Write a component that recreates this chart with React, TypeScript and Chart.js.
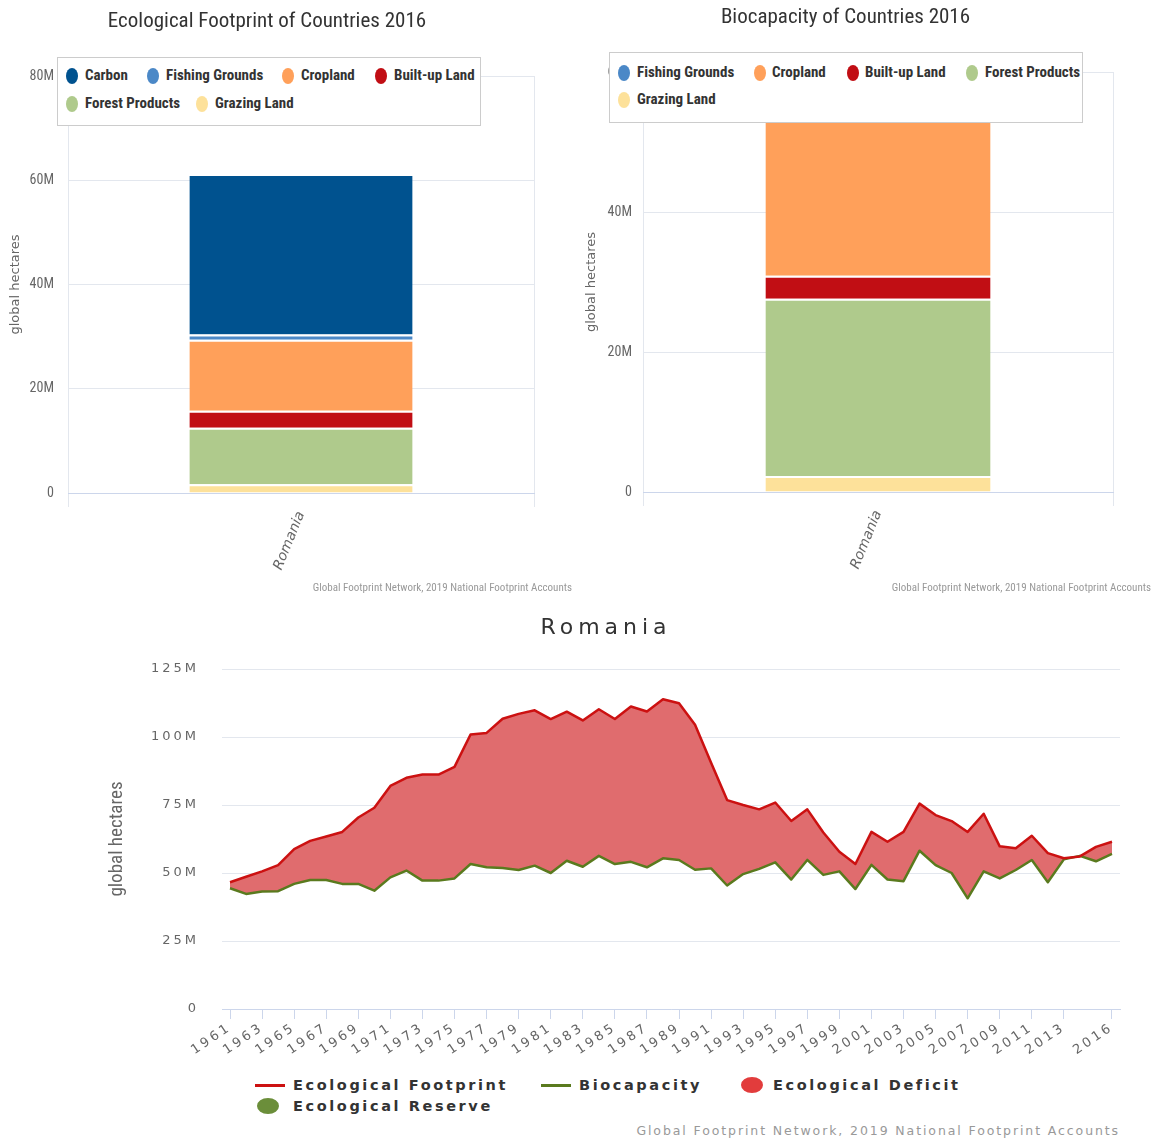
import React, { useEffect, useRef } from 'react';
import { Chart, registerables } from 'chart.js';

Chart.register(...registerables);

// ---------------- DATA ----------------
const countries = ['Romania'];

// stack order, bottom to top (values in millions of global hectares)
const footprintLandTypes = ['Grazing Land', 'Forest Products', 'Built-up Land', 'Cropland', 'Fishing Grounds', 'Carbon'];
const footprintRomania = [1.7, 10.8, 3.3, 13.6, 1.0, 30.8];

const biocapacityLandTypes = ['Grazing Land', 'Forest Products', 'Built-up Land', 'Cropland', 'Fishing Grounds'];
const biocapacityRomania = [2.3, 25.3, 3.3, 24.4, 2.0];

const years = [
  1961, 1962, 1963, 1964, 1965, 1966, 1967, 1968, 1969, 1970,
  1971, 1972, 1973, 1974, 1975, 1976, 1977, 1978, 1979, 1980,
  1981, 1982, 1983, 1984, 1985, 1986, 1987, 1988, 1989, 1990,
  1991, 1992, 1993, 1994, 1995, 1996, 1997, 1998, 1999, 2000,
  2001, 2002, 2003, 2004, 2005, 2006, 2007, 2008, 2009, 2010,
  2011, 2012, 2013, 2014, 2015, 2016,
];

const ecologicalFootprint = [
  46.6, 48.6, 50.6, 52.9, 58.8, 61.8, 63.4, 65.1, 70.4, 74.0,
  82.0, 85.0, 86.2, 86.2, 89.0, 100.9, 101.5, 106.7, 108.5, 109.8,
  106.6, 109.3, 106.1, 110.2, 106.6, 111.2, 109.4, 113.9, 112.4, 104.5,
  90.5, 76.8, 75.0, 73.4, 75.9, 69.1, 73.4, 64.9, 57.8, 53.3,
  65.1, 61.5, 65.1, 75.5, 71.3, 69.1, 65.1, 71.8, 59.8, 59.1,
  63.7, 57.3, 55.4, 56.1, 59.6, 61.5,
];

const biocapacity = [
  44.4, 42.3, 43.2, 43.3, 46.0, 47.4, 47.4, 46.0, 46.0, 43.5,
  48.4, 50.9, 47.2, 47.2, 48.0, 53.3, 52.1, 51.8, 51.1, 52.7,
  50.0, 54.5, 52.3, 56.3, 53.3, 54.1, 52.1, 55.4, 54.8, 51.2,
  51.7, 45.4, 49.6, 51.5, 53.9, 47.6, 54.8, 49.3, 50.6, 44.1,
  53.0, 47.6, 47.0, 58.2, 52.9, 50.0, 40.7, 50.6, 48.0, 51.1,
  54.8, 46.6, 55.0, 56.3, 54.3, 57.0,
];

const yearTickLabels = [
  1961, 1963, 1965, 1967, 1969, 1971, 1973, 1975, 1977, 1979,
  1981, 1983, 1985, 1987, 1989, 1991, 1993, 1995, 1997, 1999,
  2001, 2003, 2005, 2007, 2009, 2011, 2013, 2016,
];

// ---------------- STYLE ----------------
const NARROW = "'Liberation Sans Narrow', 'Arial Narrow', 'Roboto Condensed', sans-serif";
const WIDE = "'DejaVu Sans', Verdana, sans-serif";

const landColors: Record<string, string> = {
  'Carbon': '#00528f',
  'Fishing Grounds': '#4b88c7',
  'Cropland': '#ffa05a',
  'Built-up Land': '#c10e14',
  'Forest Products': '#afca8c',
  'Grazing Land': '#fde19a',
};

const FP_RED = '#cc1111';
const BIO_GREEN = '#5a7a1e';
const DEFICIT_FILL = 'rgb(224,108,110)';
const RESERVE_FILL = 'rgb(122,154,69)';
const DEFICIT_DOT = '#e23c3c';
const RESERVE_DOT = '#6b8e3a';
const GRID = '#e3e7ee';
const AXIS = '#ccd6eb';
const CREDITS = 'Global Footprint Network, 2019 National Footprint Accounts';

// ---------------- plugins ----------------
const spacingPlugin = {
  id: 'spacing',
  beforeDraw(chart: any, _args: any, opts: any) {
    const ctx = chart.ctx;
    ctx.letterSpacing = opts.ticks || '0px';
    const ys = chart.scales.y;
    if (ys && !ys.__plain) {
      const orig = ys.drawTitle;
      ys.drawTitle = function () {
        const c = this.ctx;
        const prev = c.letterSpacing;
        c.letterSpacing = opts.axisTitle || '0px';
        orig.call(this);
        c.letterSpacing = prev;
      };
      ys.__plain = true;
    }
    const tb = chart.titleBlock;
    if (tb && !tb.__spaced) {
      const origT = tb.draw;
      tb.draw = function () {
        const c = this.ctx;
        const prev = c.letterSpacing;
        c.letterSpacing = opts.title || '0px';
        origT.call(this);
        c.letterSpacing = prev;
      };
      tb.__spaced = true;
    }
  },
  afterDraw(chart: any) {
    chart.ctx.letterSpacing = '0px';
  },
};

// ---------------- configs ----------------
function makeBarConfig(p: {
  title: string; types: string[]; values: number[]; max: number;
  titlePadTop: number; titlePadBottom: number; yWidth: number; xHeight: number;
  tickPad: number; yTitlePad: number; padRight: number;
}) {
  return {
    type: 'bar',
    data: {
      labels: countries,
      datasets: p.types.map((t, i) => ({
        label: t,
        data: [p.values[i]],
        backgroundColor: landColors[t],
        borderColor: '#ffffff',
        borderWidth: { top: 2, left: 0, right: 0, bottom: 0 },
        borderSkipped: false,
        barPercentage: 0.479,
        categoryPercentage: 1,
      })),
    },
    options: {
      responsive: false,
      maintainAspectRatio: false,
      animation: false,
      layout: { padding: { top: 0, left: 0, right: p.padRight, bottom: 0 } },
      plugins: {
        legend: { display: false },
        tooltip: { enabled: false },
        title: {
          display: true,
          text: p.title,
          color: '#333333',
          font: { family: NARROW, size: 21, weight: 'normal', lineHeight: 1.2 },
          padding: { top: p.titlePadTop, bottom: p.titlePadBottom },
        },
      },
      scales: {
        x: {
          stacked: true,
          offset: true,
          grid: { display: true, offset: true, color: GRID, tickLength: 14, drawOnChartArea: true },
          border: { display: true, color: AXIS },
          ticks: {
            minRotation: 68, maxRotation: 68, padding: 2, color: '#666666',
            font: { family: WIDE, size: 14, style: 'italic' },
          },
          afterFit: (s: any) => { s.height = p.xHeight; },
        },
        y: {
          stacked: true,
          min: 0,
          max: p.max,
          ticks: {
            stepSize: 20, padding: p.tickPad, color: '#666666',
            font: { family: NARROW, size: 14 },
            callback: (v: any) => (v === 0 ? '0' : v + 'M'),
          },
          grid: { color: GRID, drawTicks: false },
          border: { display: false },
          title: {
            display: true, text: 'global hectares', color: '#666666',
            font: { family: WIDE, size: 13, lineHeight: 1.2 },
            padding: { top: p.yTitlePad, bottom: 0 },
          },
          afterFit: (s: any) => { s.width = p.yWidth; },
        },
      },
    },
  };
}

function makeLineConfig() {
  return {
    type: 'line',
    data: {
      datasets: [
        {
          label: 'Ecological Footprint',
          data: years.map((yr, i) => ({ x: yr, y: ecologicalFootprint[i] })),
          borderColor: FP_RED,
          borderWidth: 2.5,
          borderJoinStyle: 'round',
          pointRadius: 0,
          tension: 0,
          fill: { target: 1, above: DEFICIT_FILL, below: RESERVE_FILL },
        },
        {
          label: 'Biocapacity',
          data: years.map((yr, i) => ({ x: yr, y: biocapacity[i] })),
          borderColor: BIO_GREEN,
          borderWidth: 2.5,
          borderJoinStyle: 'round',
          pointRadius: 0,
          tension: 0,
          fill: false,
        },
      ],
    },
    plugins: [spacingPlugin],
    options: {
      responsive: false,
      maintainAspectRatio: false,
      animation: false,
      layout: { padding: { top: 0, left: 35, right: 35, bottom: 0 } },
      plugins: {
        legend: { display: false },
        tooltip: { enabled: false },
        filler: { drawTime: 'beforeDatasetsDraw' },
        spacing: { ticks: '3px', title: '5px', axisTitle: '0px' },
        title: {
          display: true,
          text: 'Romania',
          color: '#333333',
          font: { family: WIDE, size: 22, weight: 'normal', lineHeight: 1.2 },
          padding: { top: 14.8, bottom: 27.8 },
        },
      },
      scales: {
        x: {
          type: 'linear',
          min: 1960.5,
          max: 2016.5,
          afterBuildTicks: (scale: any) => {
            scale.ticks = yearTickLabels.map((v) => ({ value: v }));
          },
          ticks: {
            autoSkip: false, minRotation: 34, maxRotation: 34, padding: 1,
            color: '#666666', font: { family: WIDE, size: 13 },
            callback: (v: any) => String(v),
          },
          grid: { display: true, drawOnChartArea: false, drawTicks: true, tickLength: 10, color: AXIS },
          border: { display: true, color: AXIS },
          afterFit: (s: any) => { s.height = 61; },
        },
        y: {
          min: 0,
          max: 125,
          ticks: {
            stepSize: 25, padding: 23, color: '#666666',
            font: { family: WIDE, size: 13 },
            callback: (v: any) => (v === 0 ? '0' : v + 'M'),
          },
          grid: { color: GRID, drawTicks: false },
          border: { display: false },
          title: {
            display: true, text: 'global hectares', color: '#666666',
            font: { family: NARROW, size: 19, lineHeight: 1.2 },
            padding: { top: 13.6, bottom: 0 },
          },
          afterFit: (s: any) => { s.width = 130; },
        },
      },
    },
  };
}

// ---------------- components ----------------
function ChartCanvas({ make, left, top, width, height }: any) {
  const ref = useRef<HTMLCanvasElement | null>(null);
  useEffect(() => {
    const chart = new Chart(ref.current as HTMLCanvasElement, make() as any);
    return () => chart.destroy();
  }, []);
  return (
    <canvas
      ref={ref}
      width={width}
      height={height}
      style={{ position: 'absolute', left, top, width, height }}
    />
  );
}

const abs = (o: any) => ({ position: 'absolute' as const, ...o });

function TopLegend({ items, box }: { items: { name: string; cx: number; tx: number; cy: number }[]; box: any }) {
  return (
    <>
      <div style={abs({ ...box, border: '1px solid #cccccc', background: '#ffffff', boxSizing: 'border-box' })} />
      {items.map((it) => (
        <React.Fragment key={it.name}>
          <div style={abs({ left: it.cx - 6, top: it.cy - 8, width: 12, height: 16, borderRadius: '50%', background: landColors[it.name] })} />
          <div style={abs({ left: it.tx, top: it.cy - 10, height: 20, lineHeight: '20px', font: `bold 15px ${NARROW}`, color: '#333333', whiteSpace: 'nowrap' })}>{it.name}</div>
        </React.Fragment>
      ))}
    </>
  );
}

export default function App() {
  const leftLegendOrder = [...footprintLandTypes].reverse();
  const rightLegendOrder = [...biocapacityLandTypes].reverse();
  const leftPos = [[72, 85, 76], [153, 166, 76], [288, 301, 76], [381, 394, 76], [72, 85, 104], [202, 215, 104]];
  const rightPos = [[624, 637, 73], [760, 772, 73], [853, 865, 73], [972, 985, 73], [624, 637, 100]];

  const bottomLegendText = { font: `bold 14.5px ${WIDE}`, letterSpacing: '2.6px', color: '#333333', whiteSpace: 'nowrap' as const, height: 20, lineHeight: '20px' };

  return (
    <div style={{ position: 'absolute', left: 0, top: 0, width: 1155, height: 1140, background: '#ffffff', overflow: 'hidden' }}>
      <ChartCanvas
        left={0} top={0} width={536} height={600}
        make={() => makeBarConfig({
          title: 'Ecological Footprint of Countries 2016', types: footprintLandTypes, values: footprintRomania, max: 80,
          titlePadTop: 9.4, titlePadBottom: 41.4, yWidth: 68, xHeight: 107, tickPad: 14, yTitlePad: 8, padRight: 2,
        })}
      />
      <ChartCanvas
        left={578} top={0} width={536} height={600}
        make={() => makeBarConfig({
          title: 'Biocapacity of Countries 2016', types: biocapacityLandTypes, values: biocapacityRomania, max: 60,
          titlePadTop: 5.4, titlePadBottom: 41.4, yWidth: 65, xHeight: 108, tickPad: 11, yTitlePad: 6, padRight: 1,
        })}
      />
      <ChartCanvas left={57} top={600} width={1098} height={470} make={makeLineConfig} />

      <TopLegend
        box={{ left: 57, top: 57, width: 424, height: 69 }}
        items={leftLegendOrder.map((n, i) => ({ name: n, cx: leftPos[i][0], tx: leftPos[i][1], cy: leftPos[i][2] }))}
      />
      <TopLegend
        box={{ left: 609, top: 52, width: 474, height: 71 }}
        items={rightLegendOrder.map((n, i) => ({ name: n, cx: rightPos[i][0], tx: rightPos[i][1], cy: rightPos[i][2] }))}
      />

      <div style={abs({ right: 1155 - 572, top: 581, font: `11px ${NARROW}`, color: '#999999', whiteSpace: 'nowrap' })}>{CREDITS}</div>
      <div style={abs({ right: 1155 - 1151, top: 581, font: `11px ${NARROW}`, color: '#999999', whiteSpace: 'nowrap' })}>{CREDITS}</div>

      {/* bottom legend */}
      <div style={abs({ left: 255, top: 1084, width: 30, height: 3, background: FP_RED })} />
      <div style={abs({ left: 293, top: 1075, ...bottomLegendText })}>Ecological Footprint</div>
      <div style={abs({ left: 541, top: 1084, width: 30, height: 3, background: BIO_GREEN })} />
      <div style={abs({ left: 579, top: 1075, ...bottomLegendText })}>Biocapacity</div>
      <div style={abs({ left: 741, top: 1077, width: 22, height: 16, borderRadius: '50%', background: DEFICIT_DOT })} />
      <div style={abs({ left: 773, top: 1075, ...bottomLegendText })}>Ecological Deficit</div>
      <div style={abs({ left: 257, top: 1098, width: 22, height: 16, borderRadius: '50%', background: RESERVE_DOT })} />
      <div style={abs({ left: 293, top: 1096, ...bottomLegendText })}>Ecological Reserve</div>

      <div style={abs({ right: 1155 - 1120, top: 1123, font: `12.5px ${WIDE}`, letterSpacing: '1.9px', color: '#999999', whiteSpace: 'nowrap' })}>{CREDITS}</div>
    </div>
  );
}
